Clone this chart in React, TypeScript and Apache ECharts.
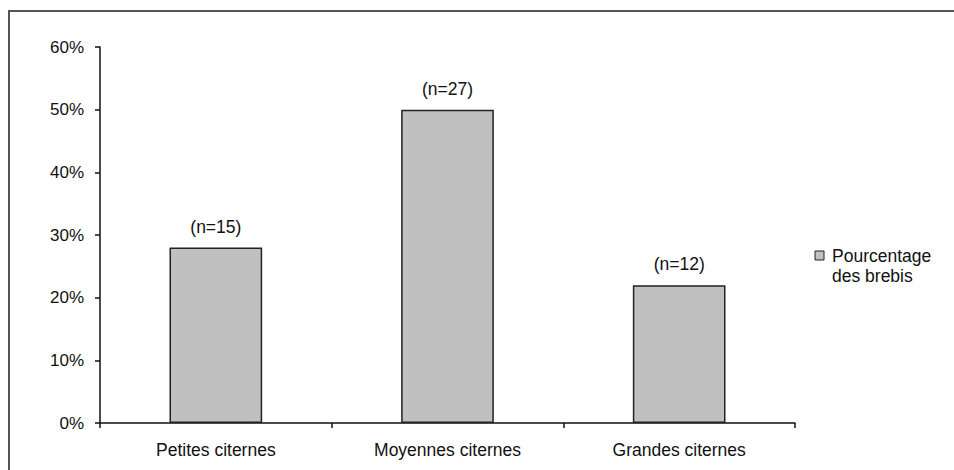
import React, { useEffect, useRef } from "react";
import * as echarts from "echarts";

const categories = ["Petites citernes", "Moyennes citernes", "Grandes citernes"];
const percentages = [0.28, 0.5, 0.22];
const sampleLabels = ["(n=15)", "(n=27)", "(n=12)"];
const legendLines = ["Pourcentage", "des brebis"];

const FONT = "'Liberation Sans', Arial, Helvetica, sans-serif";

export default function App() {
  const ref = useRef<HTMLDivElement>(null);
  useEffect(() => {
    if (!ref.current) return;
    const chart = echarts.init(ref.current, undefined, { renderer: "svg" });
    chart.setOption({
      animation: false,
      backgroundColor: "#ffffff",
      textStyle: { fontFamily: FONT },
      grid: { left: 100, top: 47, right: 159, bottom: 47, containLabel: false },
      xAxis: {
        type: "category",
        data: categories,
        boundaryGap: true,
        axisLine: { show: true, lineStyle: { color: "#111", width: 1.5 } },
        axisTick: { show: true, length: 5, inside: false, lineStyle: { color: "#111", width: 1.5 } },
        axisLabel: { color: "#111", fontSize: 17.5, fontFamily: FONT, margin: 18 },
        splitLine: { show: false },
      },
      yAxis: {
        type: "value",
        min: 0,
        max: 0.6,
        interval: 0.1,
        axisLine: { show: true, lineStyle: { color: "#111", width: 1.5 } },
        axisTick: { show: true, length: 5, inside: false, lineStyle: { color: "#111", width: 1.5 } },
        axisLabel: {
          color: "#111",
          fontSize: 17,
          fontFamily: FONT,
          margin: 16,
          formatter: (v: number) => `${Math.round(v * 100)}%`,
        },
        splitLine: { show: false },
      },
      series: [
        {
          type: "bar",
          name: "Pourcentage des brebis",
          data: percentages,
          barWidth: "40%",
          itemStyle: { color: "#c0c0c0", borderColor: "#222", borderWidth: 1.5 },
          label: {
            show: true,
            position: "top",
            distance: 12,
            color: "#111",
            fontSize: 17.5,
            fontFamily: FONT,
            formatter: (p: any) => sampleLabels[p.dataIndex],
          },
        },
      ],
      graphic: [
        {
          type: "rect",
          shape: { x: 9, y: 11, width: 1000, height: 600 },
          style: { fill: "none", stroke: "#555", lineWidth: 2 },
          silent: true,
        },
        {
          type: "rect",
          shape: { x: 815, y: 251, width: 9, height: 9 },
          style: { fill: "#c0c0c0", stroke: "#222", lineWidth: 1 },
        },
        {
          type: "text",
          x: 832,
          y: 246,
          style: {
            text: legendLines.join("\n"),
            fontSize: 17.5,
            lineHeight: 20,
            fontFamily: FONT,
            fill: "#111",
          },
        },
      ],
    });
    return () => chart.dispose();
  }, []);
  return (
    <div
      ref={ref}
      style={{ position: "fixed", left: 0, top: 0, width: 954, height: 470 }}
    />
  );
}
